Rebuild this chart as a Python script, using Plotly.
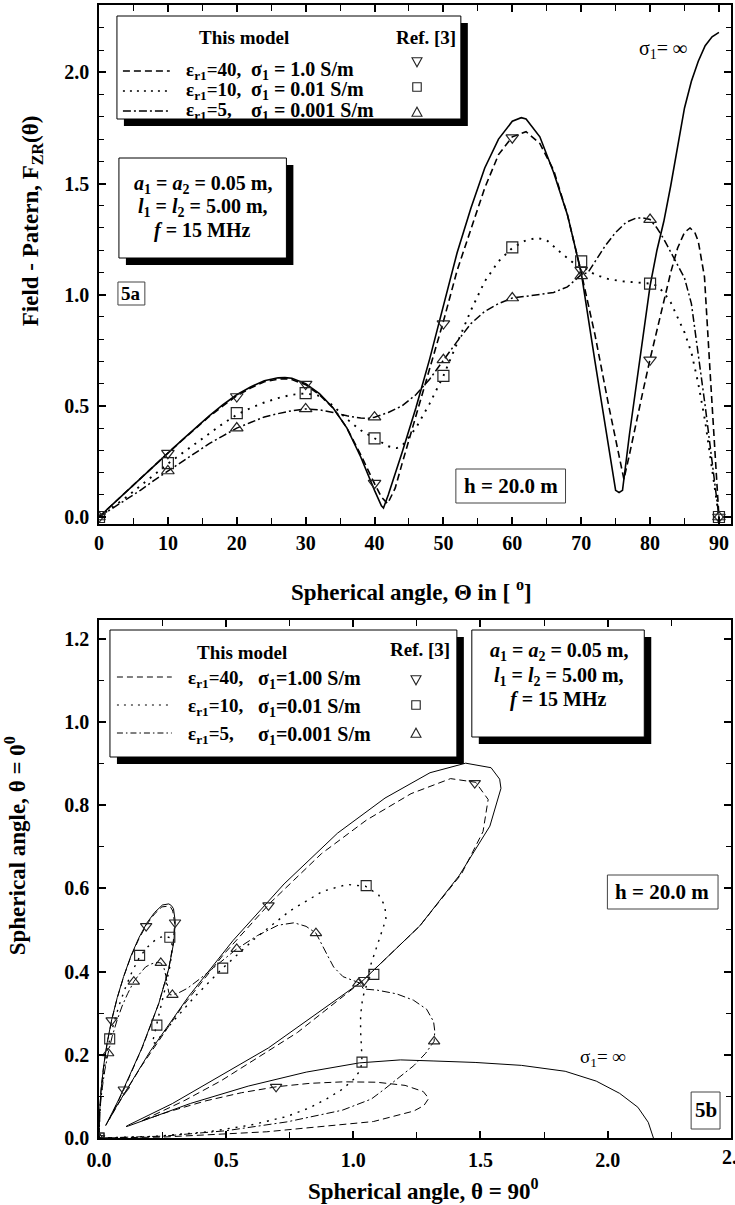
import numpy as np
import plotly.graph_objects as go

# ---------------- data ----------------
# Field pattern F_ZR(theta) vs spherical angle theta [deg]
theta_inf = [0, 2, 4, 6, 8, 10, 12, 14, 16, 18, 20, 22, 24, 26, 27, 28, 30, 32, 34, 36,
             38, 40, 41, 41.3, 42, 44, 46, 48, 50, 52, 54, 56, 58, 60, 61.3, 62, 64, 66, 68, 70,
             72, 74, 75, 75.5, 76, 77, 78, 79, 80, 81, 82, 83, 84, 85, 86, 87, 88, 89, 90]
F_inf = [0, 0.058, 0.116, 0.174, 0.232, 0.29, 0.345, 0.40, 0.455, 0.505, 0.55, 0.585, 0.613, 0.626, 0.627, 0.624, 0.60, 0.555, 0.49, 0.40,
         0.27, 0.12, 0.05, 0.04, 0.10, 0.29, 0.49, 0.71, 0.95, 1.19, 1.39, 1.57, 1.70, 1.78, 1.796, 1.79, 1.71, 1.55, 1.36, 1.10,
         0.70, 0.30, 0.12, 0.11, 0.12, 0.37, 0.60, 0.83, 1.04, 1.20, 1.33, 1.49, 1.67, 1.84, 1.96, 2.05, 2.12, 2.16, 2.18]

theta_e40 = [0, 2, 4, 6, 8, 10, 12, 14, 16, 18, 20, 22, 24, 26, 27, 28, 30, 32, 34, 36,
             38, 40, 41, 41.9, 43, 44, 46, 48, 50, 52, 54, 56, 58, 60, 62, 64, 66, 68, 70, 72,
             74, 75, 76.2, 77, 78, 79, 80, 81, 82, 83, 84, 85, 85.8, 86.5, 87, 87.9, 88.7, 89.5, 90]
F_e40 = [0, 0.058, 0.116, 0.172, 0.23, 0.288, 0.343, 0.398, 0.452, 0.50, 0.545, 0.58, 0.608, 0.62, 0.622, 0.618, 0.595, 0.55, 0.49, 0.40,
         0.28, 0.15, 0.09, 0.06, 0.13, 0.24, 0.45, 0.66, 0.88, 1.11, 1.30, 1.48, 1.63, 1.71, 1.733, 1.68, 1.56, 1.36, 1.10, 0.82,
         0.50, 0.35, 0.17, 0.28, 0.43, 0.57, 0.71, 0.84, 0.97, 1.10, 1.21, 1.28, 1.30, 1.28, 1.24, 1.08, 0.66, 0.25, 0]

theta_e10 = [0, 2, 4, 6, 8, 10, 12, 14, 16, 18, 20, 22, 24, 26, 28, 30, 32, 34, 36, 38,
             40, 42, 43.2, 44, 46, 48, 50, 52, 54, 56, 58, 60, 62, 63.6, 65, 67, 69, 70, 72, 74,
             76, 78, 80, 81, 82, 83, 84, 85, 86, 87, 88, 89, 90]
F_e10 = [0, 0.045, 0.09, 0.14, 0.19, 0.24, 0.285, 0.33, 0.375, 0.42, 0.46, 0.49, 0.515, 0.535, 0.55, 0.556, 0.545, 0.50, 0.44, 0.39,
         0.354, 0.318, 0.31, 0.32, 0.40, 0.51, 0.635, 0.78, 0.93, 1.06, 1.15, 1.21, 1.245, 1.255, 1.245, 1.19, 1.14, 1.13, 1.09, 1.07,
         1.06, 1.055, 1.05, 1.04, 1.01, 0.965, 0.90, 0.83, 0.74, 0.60, 0.43, 0.22, 0]

theta_e5 = [0, 2, 4, 6, 8, 10, 12, 14, 16, 18, 20, 22, 24, 26, 28, 30, 32, 34, 36, 38,
            39, 40, 42, 44, 46, 48, 50, 52, 54, 56, 58, 60, 62, 64, 66, 68, 70, 71, 72, 73.5,
            75, 76.5, 78, 79, 80, 81, 82, 83, 84, 85, 86, 87, 88, 89, 90]
F_e5 = [0, 0.04, 0.08, 0.12, 0.165, 0.207, 0.25, 0.29, 0.33, 0.365, 0.40, 0.425, 0.45, 0.465, 0.478, 0.486, 0.482, 0.47, 0.455, 0.445,
        0.443, 0.449, 0.47, 0.50, 0.55, 0.62, 0.707, 0.79, 0.87, 0.925, 0.96, 0.985, 0.993, 1.0, 1.01, 1.035, 1.09, 1.10, 1.15, 1.22,
        1.28, 1.325, 1.345, 1.345, 1.338, 1.30, 1.25, 1.19, 1.13, 1.075, 0.96, 0.74, 0.50, 0.25, 0]

# Ref. [3] points
ref_theta = [0, 10, 20, 30, 40, 50, 60, 70, 80, 90]
ref_e40 = [0.0, 0.287, 0.542, 0.598, 0.152, 0.87, 1.706, 1.11, 0.707, 0.0]
ref_e10 = [0.0, 0.242, 0.467, 0.557, 0.354, 0.635, 1.213, 1.15, 1.05, 0.0]
ref_e5 = [0.0, 0.207, 0.40, 0.486, 0.449, 0.707, 0.985, 1.085, 1.338, 0.0]

# tick labels
top_x_ticks = [0, 10, 20, 30, 40, 50, 60, 70, 80, 90]
top_y_ticks = [0.0, 0.5, 1.0, 1.5, 2.0]
bot_x_ticks = [0.0, 0.5, 1.0, 1.5, 2.0]
bot_y_ticks = [0.0, 0.2, 0.4, 0.6, 0.8, 1.0, 1.2]

# ---------------- geometry helpers ----------------
W, H = 735, 1205
ML, MR, MT, MB = 99, 2, 5, 67
PW = W - ML - MR
PH = H - MT - MB


def px(x):
    return (x - ML) / PW


def py(y):
    return (H - MB - y) / PH


FONT = "Liberation Serif"


def polar(th, f):
    t = np.radians(np.asarray(th, dtype=float))
    f = np.asarray(f, dtype=float)
    return f * np.sin(t), f * np.cos(t)


fig = go.Figure()

curves = [
    (theta_inf, F_inf, "solid", 1.6, 1.0),
    (theta_e40, F_e40, "7px,4px", 1.6, 1.0),
    (theta_e10, F_e10, "2px,6px", 1.9, 1.4),
    (theta_e5, F_e5, "8px,3px,2px,3px", 1.5, 1.0),
]
for th, f, dash, w_top, w_bot in curves:
    fig.add_trace(go.Scatter(x=th, y=f, mode="lines", xaxis="x", yaxis="y",
                             line=dict(color="black", width=w_top, dash=dash), hoverinfo="skip"))
    xx, yy = polar(th, f)
    fig.add_trace(go.Scatter(x=xx, y=yy, mode="lines", xaxis="x2", yaxis="y2",
                             line=dict(color="black", width=w_bot, dash=dash), hoverinfo="skip"))

refs = [
    (ref_e40, "triangle-down-open"),
    (ref_e10, "square-open"),
    (ref_e5, "triangle-up-open"),
]
for vals, sym in refs:
    fig.add_trace(go.Scatter(x=ref_theta, y=vals, mode="markers", xaxis="x", yaxis="y",
                             marker=dict(symbol=sym, size=11, color="#222", line=dict(width=1.2, color="#222")),
                             hoverinfo="skip"))
    xx, yy = polar(ref_theta, vals)
    fig.add_trace(go.Scatter(x=xx, y=yy, mode="markers", xaxis="x2", yaxis="y2",
                             marker=dict(symbol=sym, size=10, color="#222", line=dict(width=1.1, color="#222")),
                             hoverinfo="skip"))

tickfont = dict(family=FONT, size=20, color="black", weight="bold")


def axis_style(**kw):
    d = dict(showline=True, linecolor="black", linewidth=1.5, mirror="ticks",
             ticks="inside", ticklen=7, tickwidth=1.5, tickcolor="black",
             showgrid=False, zeroline=False, tickfont=tickfont, fixedrange=True)
    d.update(kw)
    return d


fig.update_layout(
    width=W, height=H,
    margin=dict(l=ML, r=MR, t=MT, b=MB, pad=0),
    plot_bgcolor="white", paper_bgcolor="white", showlegend=False,
    xaxis=axis_style(domain=[0, 1], anchor="y", range=[0, 91.75], tickvals=top_x_ticks,
                     ticklabelstandoff=0,
                     minor=dict(ticks="inside", dtick=5, ticklen=6, tickwidth=1.2, tickcolor="black")),
    yaxis=axis_style(domain=[py(524), py(5)], anchor="x", range=[-0.0315, 2.303],
                     tickvals=top_y_ticks, tickformat=".1f", ticklabelstandoff=4,
                     minor=dict(ticks="inside", dtick=0.1, ticklen=5, tickwidth=1.2, tickcolor="black")),
    xaxis2=axis_style(domain=[0, 1], anchor="y2", range=[0, 2.485], tickvals=bot_x_ticks,
                      tickformat=".1f", ticklabelstandoff=3,
                      minor=dict(ticks="inside", dtick=0.25, ticklen=6, tickwidth=1.2, tickcolor="black")),
    yaxis2=axis_style(domain=[0, py(620)], anchor="x2", range=[0, 1.245], tickvals=bot_y_ticks,
                      tickformat=".1f", ticklabelstandoff=4,
                      minor=dict(ticks="inside", dtick=0.1, ticklen=5, tickwidth=1.2, tickcolor="black")),
)

shapes = []
annotations = []


def rect(x0, y0, x1, y1, fill="white", line=1.0, lcolor="black"):
    shapes.append(dict(type="rect", xref="paper", yref="paper", x0=px(x0), x1=px(x1), y0=py(y1), y1=py(y0),
                       fillcolor=fill, line=dict(color=lcolor, width=line), layer="above"))


def shadow_box(x0, y0, x1, y1, dx=7, dy=7):
    shapes.append(dict(type="rect", xref="paper", yref="paper", x0=px(x0 + dx), x1=px(x1 + dx),
                       y0=py(y1 + dy), y1=py(y0 + dy), fillcolor="black", line=dict(width=0), layer="above"))
    rect(x0, y0, x1, y1)


def hline(x0, x1, y, dash, width=1.5):
    shapes.append(dict(type="line", xref="paper", yref="paper", x0=px(x0), x1=px(x1), y0=py(y), y1=py(y),
                       line=dict(color="black", width=width, dash=dash), layer="above"))


def sym(kind, cx, cy, s=5):
    if kind == "down":
        pts = [(cx - s, cy - s * 0.85), (cx + s, cy - s * 0.85), (cx, cy + s * 0.95)]
    elif kind == "up":
        pts = [(cx - s, cy + s * 0.85), (cx + s, cy + s * 0.85), (cx, cy - s * 0.95)]
    else:
        s2 = s * 0.85
        pts = [(cx - s2, cy - s2), (cx + s2, cy - s2), (cx + s2, cy + s2), (cx - s2, cy + s2)]
    path = "M " + " L ".join(f"{px(a):.5f},{py(b):.5f}" for a, b in pts) + " Z"
    shapes.append(dict(type="path", xref="paper", yref="paper", path=path,
                       line=dict(color="#222", width=1.1), fillcolor="rgba(0,0,0,0)", layer="above"))


def ann(x, y, text, size=19, xanchor="center", bold=True, angle=0):
    annotations.append(dict(x=px(x), y=py(y), xref="paper", yref="paper", text=text, showarrow=False,
                            xanchor=xanchor, yanchor="middle", textangle=angle,
                            font=dict(family=FONT, size=size, color="black",
                                      weight="bold" if bold else "normal")))


# ---- axis titles ----
ann(412, 590, "Spherical angle, \u0398 in [ <sup>o</sup>]", size=23)
ann(425, 1190, "Spherical angle, \u03b8 = 90<sup>0</sup>", size=23)
ann(32, 221, "Field - Patern, F<sub>ZR</sub>(\u03b8)", size=23, angle=-90)
ann(15, 846, "Spherical angle, \u03b8 = 0<sup>0</sup>", size=23, angle=-90)
ann(737, 1157, "2.5", size=20)

# ---- top legend ----
shadow_box(117, 16, 462, 119, 7, 7)
ann(244, 37, "This model", size=19)
ann(427, 37, "Ref. [3]", size=19)
rows_top = [(69, "7px,4px", "\u03b5<sub>r1</sub>=40,", "\u03c3<sub>1</sub> = 1.0 S/m", "down", 62),
            (89, "2px,5px", "\u03b5<sub>r1</sub>=10,", "\u03c3<sub>1</sub> = 0.01 S/m", "sq", 87),
            (109, "8px,3px,2px,3px", "\u03b5<sub>r1</sub>=5,", "\u03c3<sub>1</sub> = 0.001 S/m", "up", 112)]
for y, dash, t1, t2, k, my in rows_top:
    hline(123, 170, y + 2, dash, 1.5)
    ann(184, y + 2, t1, size=19, xanchor="left")
    ann(249, y + 2, t2, size=20, xanchor="left")
    sym(k, 418, my, 5)

# top parameter box
shadow_box(119, 158, 287, 258, 7, 7)
ann(203, 184, "<i>a</i><sub>1</sub> = <i>a</i><sub>2</sub> = 0.05 m,", size=20)
ann(203, 208, "<i>l</i><sub>1</sub> = <i>l</i><sub>2</sub> = 5.00 m,", size=20)
ann(203, 231, "<i>f</i> = 15 MHz", size=20)

# 5a label
rect(118, 282, 145, 305, line=1.0, lcolor="#444")
ann(131.5, 293.5, "5a", size=19)

# h box top
rect(457, 469, 567, 503, line=1.0, lcolor="#444")
ann(512, 486, "h = 20.0 m", size=21)

# sigma infinity top
ann(665, 50, "\u03c3<sub>1</sub>= <b>\u221e</b>", size=20, bold=False)

# ---- bottom legend ----
shadow_box(110, 630, 458, 757, 7, 7)
ann(242, 652, "This model", size=19)
ann(421, 649, "Ref. [3]", size=19)
rows_bot = [(677, "6px,4px", "\u03b5<sub>r1</sub>=40,", "\u03c3<sub>1</sub>=1.00 S/m", "down", 680),
            (705, "2px,5px", "\u03b5<sub>r1</sub>=10,", "\u03c3<sub>1</sub>=0.01 S/m", "sq", 705),
            (733, "6px,3px,1.5px,3px", "\u03b5<sub>r1</sub>=5,", "\u03c3<sub>1</sub>=0.001 S/m", "up", 733)]
for y, dash, t1, t2, k, my in rows_bot:
    hline(117, 172, y, dash, 1.0)
    ann(186, y + 2, t1, size=19, xanchor="left")
    ann(256, y + 2, t2, size=20, xanchor="left")
    sym(k, 417, my, 5)

# bottom parameter box
shadow_box(473, 630, 646, 737, 7, 7)
ann(560, 651, "<i>a</i><sub>1</sub> = <i>a</i><sub>2</sub> = 0.05 m,", size=20)
ann(560, 676, "<i>l</i><sub>1</sub> = <i>l</i><sub>2</sub> = 5.00 m,", size=20)
ann(560, 700, "<i>f</i> = 15 MHz", size=20)

# h box bottom
rect(609, 875, 720, 909, line=1.0, lcolor="#444")
ann(664, 892, "h = 20.0 m", size=21)

# 5b box
rect(693, 1092, 722, 1129, line=1.0, lcolor="#444")
ann(707.5, 1110, "5b", size=21)

# sigma infinity bottom
ann(605, 1058, "\u03c3<sub>1</sub>= <b>\u221e</b>", size=19, bold=False)

fig.update_layout(shapes=shapes, annotations=annotations)
fig.write_html("out.html")
